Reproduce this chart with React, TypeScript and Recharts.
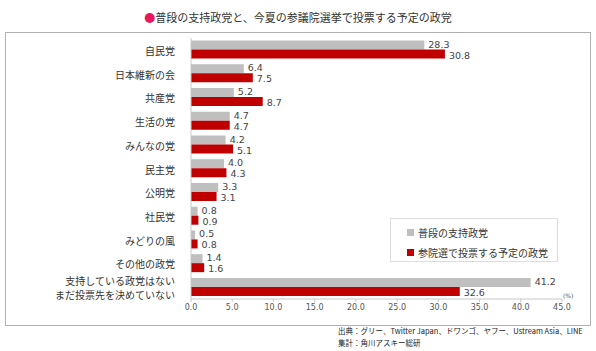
import { BarChart, Bar, XAxis, YAxis, LabelList, Legend } from 'recharts';

const parties = [
  '自民党',
  '日本維新の会',
  '共産党',
  '生活の党',
  'みんなの党',
  '民主党',
  '公明党',
  '社民党',
  'みどりの風',
  'その他の政党',
  '支持している政党はない\nまだ投票先を決めていない',
];
const usualSupport = [28.3, 6.4, 5.2, 4.7, 4.2, 4.0, 3.3, 0.8, 0.5, 1.4, 41.2];
const voteIntent = [30.8, 7.5, 8.7, 4.7, 5.1, 4.3, 3.1, 0.9, 0.8, 1.6, 32.6];
const xTicks = [0, 5, 10, 15, 20, 25, 30, 35, 40, 45];

const seriesNames = ['普段の支持政党', '参院選で投票する予定の政党'];
const GRAY = '#bfbfbf';
const RED = '#c00000';
const FONT = '"DejaVu Sans", "Noto Sans CJK JP", sans-serif';
const JP = '"Noto Sans CJK JP", sans-serif';

const data = parties.map((name, i) => ({
  name,
  usual: usualSupport[i],
  vote: voteIntent[i],
}));

// eslint-disable-next-line @typescript-eslint/no-explicit-any
const PartyTick = (props: any) => {
  const { x, y, payload } = props;
  const lines: string[] = String(payload.value).split('\n');
  const lh = 14;
  const y0 = y - ((lines.length - 1) * lh) / 2;
  return (
    <text x={x} y={y0} textAnchor="end" dominantBaseline="central" fill="#333" fontSize={10} fontFamily={JP}>
      {lines.map((l, i) => (
        <tspan key={i} x={x} y={y0 + i * lh}>
          {l}
        </tspan>
      ))}
    </text>
  );
};

// value label to the right of a bar, nudged up or down a little
const valueLabel = (dy: number) =>
  // eslint-disable-next-line @typescript-eslint/no-explicit-any
  (props: any) => {
    const { x, y, width, height, value } = props;
    return (
      <text
        x={x + width + 4}
        y={y + height / 2 + dy}
        dominantBaseline="central"
        fill="#444"
        fontSize={9.5}
        fontFamily={FONT}
      >
        {Number(value).toFixed(1)}
      </text>
    );
  };

const LegendBox = () => (
  <div
    style={{
      border: '1px solid #ddd',
      background: '#fff',
      width: 168,
      height: 44,
      boxSizing: 'border-box',
      padding: '5px 0 0 16px',
      fontFamily: JP,
      fontSize: 10,
      color: '#333',
      textAlign: 'left',
    }}
  >
    {seriesNames.map((n, i) => (
      <div key={n} style={{ display: 'flex', alignItems: 'center', height: 16, marginBottom: i === 0 ? 4 : 0 }}>
        <span style={{ width: 7, height: 7, background: i === 0 ? GRAY : RED, marginRight: 4, display: 'inline-block' }} />
        {n}
      </div>
    ))}
  </div>
);

export default function App() {
  return (
    <div style={{ position: 'fixed', left: 0, top: 0, width: 596, height: 351, background: '#fff', overflow: 'hidden' }}>
      <div
        style={{
          position: 'absolute',
          top: 9,
          left: 0,
          width: 596,
          textAlign: 'center',
          fontFamily: JP,
          fontSize: 11,
          color: '#333',
        }}
      >
        <span style={{ color: '#e8175d' }}>●</span>普段の支持政党と、今夏の参議院選挙で投票する予定の政党
      </div>
      <div
        style={{
          position: 'absolute',
          left: 5,
          top: 32,
          width: 586,
          height: 294,
          border: '1px solid #b0b0b0',
          boxSizing: 'border-box',
        }}
      />
      <div style={{ position: 'absolute', left: 0, top: 0 }}>
        <BarChart
          width={596}
          height={351}
          data={data}
          layout="vertical"
          margin={{ top: 38, right: 34, bottom: 32, left: 11 }}
          barCategoryGap="11%"
          barGap={0}
        >
          <XAxis
            type="number"
            domain={[0, 45]}
            ticks={xTicks}
            interval={0}
            tickFormatter={(v: number) => v.toFixed(1)}
            axisLine={{ stroke: '#c8c8c8' }}
            tickLine={{ stroke: '#c8c8c8' }}
            tickSize={3}
            tick={{ fontSize: 8, fill: '#555', fontFamily: FONT }}
            height={20}
          />
          <YAxis
            type="category"
            dataKey="name"
            width={180}
            axisLine={{ stroke: '#c8c8c8' }}
            tickLine={false}
            tick={<PartyTick />}
            tickMargin={10}
            interval={0}
          />
          <Legend
            layout="horizontal"
            verticalAlign="middle"
            align="center"
            wrapperStyle={{ position: 'absolute', left: 390, top: 218, width: 168 }}
            content={<LegendBox />}
          />
          <Bar dataKey="usual" name={seriesNames[0]} fill={GRAY} isAnimationActive={false}>
            <LabelList dataKey="usual" content={valueLabel(-1)} />
          </Bar>
          <Bar dataKey="vote" name={seriesNames[1]} fill={RED} isAnimationActive={false}>
            <LabelList dataKey="vote" content={valueLabel(1)} />
          </Bar>
        </BarChart>
      </div>
      <div style={{ position: 'absolute', left: 563, top: 292, fontFamily: FONT, fontSize: 6, color: '#555' }}>(%)</div>
      <div
        style={{
          position: 'absolute',
          left: 338,
          top: 325,
          fontFamily: JP,
          fontSize: 7.5,
          color: '#222',
          lineHeight: '12px',
          whiteSpace: 'nowrap',
        }}
      >
        <div>出典：グリー、Twitter Japan、ドワンゴ、ヤフー、Ustream Asia、LINE</div>
        <div>集計：角川アスキー総研</div>
      </div>
    </div>
  );
}
